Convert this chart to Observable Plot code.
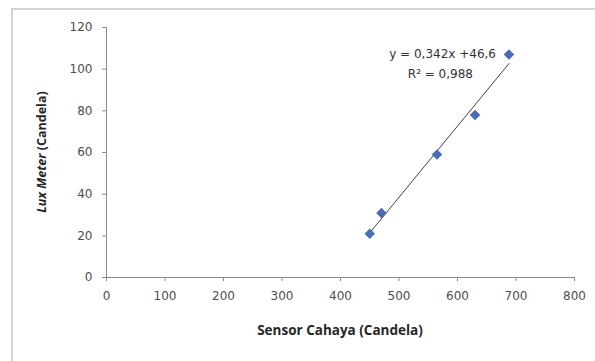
<!DOCTYPE html>
<html>
<head>
<meta charset="utf-8">
<script src="https://cdn.jsdelivr.net/npm/d3@7"></script>
<script src="https://cdn.jsdelivr.net/npm/@observablehq/plot@0.6"></script>
<style>
  html, body { margin: 0; padding: 0; background: #fff; }
  #wrap { position: relative; width: 595px; height: 361px; overflow: hidden; }
  #frame { position: absolute; left: 11px; top: 8px; width: 600px; height: 400px;
           border-top: 2px solid #d4d4d4; border-left: 2px solid #d4d4d4; box-sizing: border-box; pointer-events: none; }
  #chart { position: absolute; left: 0; top: 0; }
</style>
</head>
<body>
<div id="wrap"><div id="chart"></div><div id="frame"></div></div>
<script>
const sensorCahaya = [450, 470, 565, 630, 688];
const luxMeter = [21, 31, 59, 78, 107];
const xTicks = [0, 100, 200, 300, 400, 500, 600, 700, 800];
const yTicks = [0, 20, 40, 60, 80, 100, 120];
const equationText = "y = 0,342x +46,6";
const r2Text = "R² = 0,988";
const xTitle = "Sensor Cahaya (Candela)";
const yTitleItalic = "Lux Meter";
const yTitleRest = " (Candela)";

const data = sensorCahaya.map((x, i) => ({x, y: luxMeter[i]}));
const last = data[data.length - 1];

const plot = Plot.plot({
  width: 595,
  height: 361,
  marginLeft: 106,
  marginRight: 21,
  marginTop: 27,
  marginBottom: 84,
  style: {fontFamily: "'DejaVu Sans', sans-serif", fontSize: "12px", color: "#595959", background: "transparent"},
  x: {domain: [0, 800], ticks: xTicks, label: null},
  y: {domain: [0, 120], ticks: yTicks, label: null},
  marks: [
    Plot.ruleX([0], {stroke: "#8c8c8c"}),
    Plot.ruleY([0], {stroke: "#8c8c8c"}),
    Plot.axisX({ticks: xTicks, tickSize: 4, tickPadding: 10, stroke: "#8c8c8c", fill: "#4d4d4d", label: null}),
    Plot.axisY({ticks: yTicks, tickSize: 4, tickPadding: 10, stroke: "#8c8c8c", fill: "#4d4d4d", label: null}),
    Plot.linearRegressionY(data, {x: "x", y: "y", ci: 0, stroke: "#404040", strokeWidth: 1}),
    Plot.dot(data, {x: "x", y: "y", symbol: "square", rotate: 45, r: 4.2, fill: "#4a6cb3", stroke: "none"}),
    Plot.text([last], {x: "x", y: "y", text: () => equationText, textAnchor: "end", dx: -13, fill: "#333", fontSize: 12}),
    Plot.text([last], {x: "x", y: "y", text: () => r2Text, textAnchor: "end", dx: -36, dy: 20, fill: "#333", fontSize: 12})
  ]
});

document.getElementById("chart").append(plot);

const xs = plot.scale("x"), ys = plot.scale("y");
const svg = d3.select(plot);
const xr = xs.range, yr = ys.range;
svg.append("text")
  .attr("x", (xr[0] + xr[1]) / 2)
  .attr("y", yr[0] + 58)
  .attr("text-anchor", "middle")
  .attr("font-family", "'Open Sans', sans-serif")
  .attr("font-weight", "bold")
  .attr("font-size", 13.5)
  .attr("fill", "#262626")
  .text(xTitle);
const yt = svg.append("text")
  .attr("transform", `translate(${xr[0] - 60},${(yr[0] + yr[1]) / 2}) rotate(-90)`)
  .attr("text-anchor", "middle")
  .attr("font-family", "'Open Sans', sans-serif")
  .attr("font-weight", "bold")
  .attr("font-size", 12.5)
  .attr("fill", "#262626");
yt.append("tspan").attr("font-style", "italic").text(yTitleItalic);
yt.append("tspan").text(yTitleRest);
</script>
</body>
</html>
